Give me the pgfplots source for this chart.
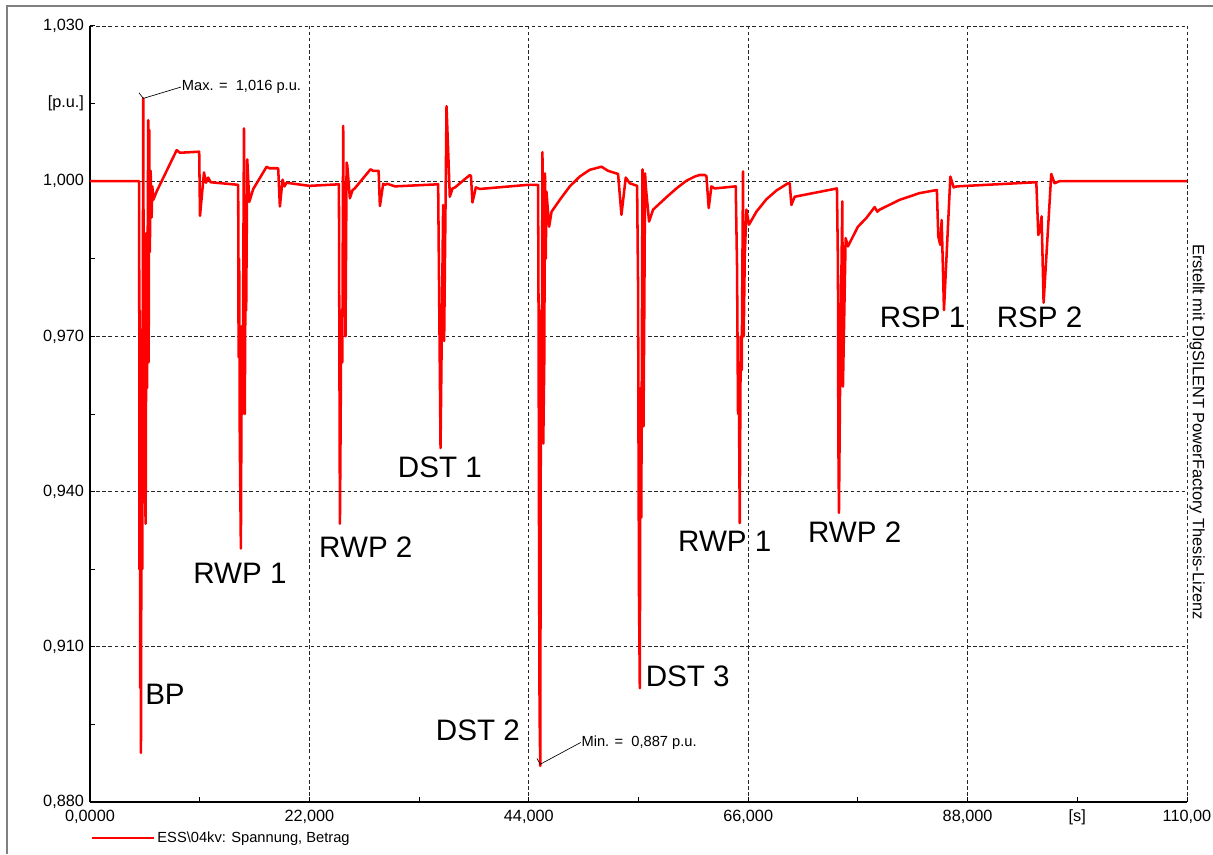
\documentclass[border=0pt]{standalone}
\usepackage{fontspec}
\setmainfont{Liberation Sans}
\usepackage{pgfplots}
\pgfplotsset{compat=1.18}

\begin{document}
\begin{tikzpicture}
\useasboundingbox (-67.5pt,-39pt) rectangle (842.25pt,601.5pt);
\begin{axis}[
  at={(0pt,0pt)}, anchor=south west,
  scale only axis, width=822.75pt, height=582pt,
  xmin=0, xmax=110, ymin=0.88, ymax=1.03,
  axis x line*=bottom, axis y line*=left,
  axis line style={-, line width=1.2pt, black},
  xtick={0,22,44,66,88,110},
  xticklabels={{0,0000},{22,000},{44,000},{66,000},{88,000},{110,00}},
  ytick={0.88,0.91,0.94,0.97,1.0,1.03},
  yticklabels={{0,880},{0,910},{0,940},{0,970},{1,000},{1,030}},
  minor x tick num=1, minor y tick num=1,
  extra x ticks={99}, extra x tick labels={{[s]}},
  extra y ticks={1.015}, extra y tick labels={{[p.u.]}},
  extra tick style={grid=none},
  tick align=inside,
  major tick length=3.5pt, minor tick length=3.5pt,
  every tick/.style={black, line width=0.75pt},
  grid=major,
  major grid style={black!85, line width=0.6pt, dash pattern=on 2.6pt off 2pt},
  ticklabel style={font=\fontsize{12.2}{14}\selectfont},
  yticklabel style={xshift=-1pt},
  xticklabel style={yshift=-2.5pt},
  legend style={at={(axis description cs:0,-0.0464)}, anchor=west,
    draw=none, fill=none, inner sep=0pt,
    font=\fontsize{11}{13}\selectfont},
  legend image code/.code={\draw[#1] (0pt,0pt) -- (46.5pt,0pt);},
  clip=false,
]
\addplot[red, line width=1.9pt, line join=round] coordinates {
(0,1.000) (4.93,1.000) (4.96,0.925) (5.00,0.975) (5.04,0.902) (5.08,0.960)
(5.11,0.8895) (5.17,0.950) (5.24,0.925) (5.34,1.016) (5.40,0.960) (5.46,0.975)
(5.52,0.940) (5.58,0.9338) (5.66,0.990) (5.72,0.960) (5.84,1.0118) (5.88,0.965)
(5.94,1.0099) (6.00,0.9863) (6.08,1.002) (6.18,0.993) (6.25,0.999) (6.35,0.9964)
(6.68,0.998) (8.69,1.006) (9.02,1.0055) (10.95,1.0057) (11.03,0.9933) (11.43,1.0017)
(11.63,0.9997) (11.85,1.0007) (12.10,0.9998) (14.86,0.9993)
(14.90,0.966) (14.96,0.985) (15.02,0.950) (15.13,0.929) (15.22,0.972) (15.30,0.955)
(15.44,1.0102) (15.52,0.955) (15.60,0.985) (15.66,0.975) (15.77,1.0042) (15.97,0.996)
(16.37,0.9985) (17.71,1.0028) (17.97,1.0025) (18.87,1.0025) (19.04,0.9951) (19.31,1.0003)
(19.50,0.999) (19.70,0.9997) (22.00,0.9991) (24.96,0.9994)
(25.00,0.972) (25.06,0.9338) (25.12,0.950) (25.20,0.975) (25.30,0.965) (25.39,1.0107)
(25.48,0.975) (25.55,0.990) (25.62,0.970) (25.73,1.0036) (25.80,1.003) (26.06,0.9967)
(26.33,0.9983) (26.50,0.9985) (28.13,1.0023) (28.40,1.002) (28.94,1.002) (29.07,0.9952)
(29.40,0.9995) (29.60,0.9993) (29.80,0.9995) (30.57,0.999) (34.91,0.9994)
(35.15,0.9484) (35.41,0.9954) (35.51,0.9691) (35.75,1.0145) (36.08,0.997) (36.35,0.9986)
(36.60,0.9988) (38.09,1.0012) (38.20,1.001) (38.35,0.9959) (38.69,0.9988) (39.09,0.9985)
(43.93,0.9993) (44.93,0.9993)
(44.98,0.9734) (45.03,0.928) (45.08,0.897) (45.15,0.887) (45.22,0.975) (45.30,0.960)
(45.37,1.0056) (45.45,0.9493) (45.55,0.965) (45.62,1.0015) (45.70,0.985) (45.77,0.998)
(46.04,0.9912) (46.28,0.9941) (47.11,0.9964) (48.11,0.999) (49.11,1.0009) (50.11,1.0022)
(51.29,1.0028) (51.95,1.002) (52.95,1.0014) (53.29,0.9935) (53.72,1.0007) (54.12,0.9996)
(54.86,0.9991)
(54.96,0.979) (55.00,0.950) (55.05,0.920) (55.13,0.902) (55.20,0.960) (55.28,0.935)
(55.40,1.0023) (55.50,0.9526) (55.58,0.975) (55.66,1.0015) (55.73,0.999) (56.06,0.9922)
(56.46,0.9945) (57.13,0.9957) (57.80,0.9969) (58.80,0.9986) (59.81,1.0001) (60.64,1.0009)
(61.13,1.0012) (61.63,1.0012) (61.81,1.001) (62.04,0.9948) (62.31,0.999) (62.64,0.9986)
(64.75,0.999)
(64.88,0.9835) (64.98,0.955) (65.05,0.965) (65.15,0.9339) (65.25,0.970) (65.35,0.9635)
(65.48,1.0019) (65.55,0.970) (65.65,0.985) (65.82,0.9945) (66.08,0.9916) (66.82,0.9941)
(67.82,0.9965) (68.83,0.9982) (69.99,0.9996) (70.16,0.9996) (70.33,0.9954) (70.66,0.997)
(74.90,0.9986)
(75.00,0.9835) (75.04,0.950) (75.10,0.9359) (75.24,0.9668) (75.44,0.9961) (75.50,0.9603)
(75.77,0.989) (76.00,0.9874) (77.00,0.9912) (77.85,0.9929) (78.68,0.995) (78.95,0.9941)
(79.18,0.9945) (81.19,0.9964) (83.19,0.9977) (84.92,0.9983)
(85.06,0.9893) (85.26,0.9877) (85.40,0.9925) (85.63,0.9751) (86.27,1.0009) (86.60,0.9988)
(86.93,0.999) (94.89,0.9998)
(95.09,0.9896) (95.29,0.9909) (95.42,0.9932) (95.62,0.9765) (96.39,1.0014) (96.72,0.9996)
(97.20,1.000) (110,1.000)
};
\addlegendentry{ESS\textbackslash 04kv: Spannung, Betrag}

% extreme value markers
\draw[black, line width=0.5pt] (axis cs:4.91,1.0171) -- (axis cs:5.34,1.016) -- (axis cs:9.12,1.0182);
\node[anchor=west, inner sep=0.5pt, font=\fontsize{11}{13}\selectfont] at (axis cs:9.12,1.0182) {Max. =\ \ 1,016 p.u.};
\draw[black, line width=0.5pt] (axis cs:44.82,0.8884) -- (axis cs:45.15,0.8873) -- (axis cs:49.2,0.8915);
\node[anchor=west, inner sep=0.5pt, font=\fontsize{11}{13}\selectfont] at (axis cs:49.2,0.8915) {Min. =\ \ 0,887 p.u.};

% event labels
\begin{scope}[every node/.style={font=\fontsize{22.2}{25}\selectfont, inner sep=0pt}]
\node at (axis cs:7.52,0.9008) {BP};
\node at (axis cs:15.03,0.9243) {RWP 1};
\node at (axis cs:27.66,0.9292) {RWP 2};
\node at (axis cs:35.08,0.9446) {DST 1};
\node at (axis cs:38.89,0.8938) {DST 2};
\node at (axis cs:59.94,0.9042) {DST 3};
\node at (axis cs:63.65,0.9304) {RWP 1};
\node at (axis cs:76.68,0.9321) {RWP 2};
\node at (axis cs:83.49,0.9736) {RSP 1};
\node at (axis cs:95.22,0.9736) {RSP 2};
\end{scope}
\end{axis}
\node[rotate=-90, font=\fontsize{12.3}{14}\selectfont] at (830.25pt,277.5pt) {Erstellt mit DIgSILENT PowerFactory Thesis-Lizenz};
\draw[black!50, line width=1.1pt] (-62.25pt,-39pt) -- (-62.25pt,597pt) -- (842.25pt,597pt);
\end{tikzpicture}
\end{document}
